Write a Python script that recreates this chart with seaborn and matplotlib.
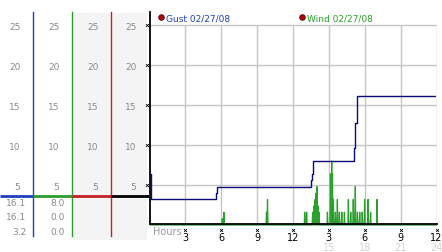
import matplotlib
matplotlib.use("Agg")
import matplotlib.pyplot as plt
from matplotlib.lines import Line2D
from matplotlib.patches import Rectangle
from matplotlib.transforms import ScaledTranslation
import seaborn as sns

# ---------------- data ----------------
gust_label = "Gust 02/27/08"
wind_label = "Wind 02/27/08"

gust_hours = [0.0, 0.11, 5.58, 5.66, 13.50, 13.58, 13.68, 17.12, 17.20, 17.34, 23.90]
gust_mph = [6.4, 3.2, 4.0, 4.8, 5.6, 6.4, 8.0, 9.6, 12.8, 16.1, 16.1]

wind_hours = [
    0.00,
    6.05, 6.09, 6.13, 6.18, 6.22, 6.26,
    9.74, 9.78, 9.82, 9.87, 9.91,
    12.94, 12.98, 13.02, 13.10, 13.14, 13.18,
    13.60, 13.64, 13.70, 13.76, 13.80, 13.85, 13.89, 13.93, 13.97, 14.01, 14.05, 14.10, 14.14, 14.18, 14.22,
    14.84, 14.88, 14.92,
    15.09, 15.13, 15.19, 15.24, 15.27, 15.30, 15.34, 15.38, 15.42,
    15.51, 15.55, 15.59, 15.67, 15.71, 15.75, 15.84, 15.88, 15.92, 16.04, 16.08, 16.12,
    16.26, 16.30, 16.34, 16.59, 16.63, 16.67, 16.79, 16.83, 16.87,
    17.00, 17.04, 17.08, 17.17, 17.21, 17.25, 17.35, 17.39, 17.43,
    17.54, 17.58, 17.62, 17.75, 17.79, 17.83, 17.95, 17.99, 18.03,
    18.24, 18.28, 18.32, 18.45, 18.49, 18.53, 18.99, 19.03, 19.07,
    24.00,
]
wind_mph = [
    0.0,
    0.0, 0.8, 0.0, 0.0, 1.6, 0.0,
    0.0, 1.6, 0.0, 3.2, 0.0,
    0.0, 1.6, 0.0, 0.0, 1.6, 0.0,
    0.0, 1.6, 0.0, 2.4, 0.0, 3.2, 0.0, 4.0, 0.0, 4.8, 0.0, 2.4, 0.0, 1.6, 0.0,
    0.0, 1.6, 0.0,
    0.0, 6.4, 0.0, 8.0, 0.0, 6.4, 0.0, 3.2, 0.0,
    0.0, 1.6, 0.0, 0.0, 3.2, 0.0, 0.0, 1.6, 0.0, 0.0, 1.6, 0.0,
    0.0, 1.6, 0.0, 0.0, 3.2, 0.0, 0.0, 1.6, 0.0,
    0.0, 3.2, 0.0, 0.0, 4.8, 0.0, 0.0, 1.6, 0.0,
    0.0, 1.6, 0.0, 0.0, 1.6, 0.0, 0.0, 3.2, 0.0,
    0.0, 3.2, 0.0, 0.0, 1.6, 0.0, 0.0, 3.2, 0.0,
    0.0,
]

y_ticks = [5, 10, 15, 20, 25]
y_tick_labels = ["5", "10", "15", "20", "25"]
x_ticks = [3, 6, 9, 12, 15, 18, 21, 24]
x_tick_labels = ["3", "6", "9", "12", "3", "6", "9", "12"]
x24_ticks = [15, 18, 21, 24]
x24_labels = ["15", "18", "21", "24"]

# ---------------- style ----------------
sns.set_theme(style="white")
plt.rcParams["font.family"] = ["DejaVu Sans"]

W, H = 442, 253
fig = plt.figure(figsize=(W / 100, H / 100), dpi=100)
fig.patch.set_facecolor("white")


def rect(x0, y0, x1, y1):
    return [x0 / W, 1 - y1 / H, (x1 - x0) / W, (y1 - y0) / H]


GUST_C = "#0c0c78"
WIND_C = "#2ca02c"
BLUE = "#1f3fc0"
GREEN = "#2c9c2c"
RED = "#c42026"
TICK_GRAY = "#8a8a8a"
GRID = "#c6c6c6"

# light gray band behind the 3rd and 4th scale columns
fig.add_artist(Rectangle((73 / W, 1 - 241 / H), (147 - 73) / W, (241 - 14) / H,
                         transform=fig.transFigure, facecolor="#f4f4f4",
                         edgecolor="none", zorder=-5))

SEP = 3.66
columns = [(0, 33, BLUE), (33, 72, GREEN), (72, 111, RED), (111, 149, "black")]
col_axes = []
for i, (x0, x1, c) in enumerate(columns):
    cax = fig.add_axes(rect(x0, 13, x1, 237))
    cax.set_facecolor("none")
    cax.set_xlim(0, 1)
    cax.set_ylim(-1.375, 26.625)
    for s in ["top", "left", "bottom"]:
        cax.spines[s].set_visible(False)
    if i < 3:
        cax.spines["right"].set_color(c)
        cax.spines["right"].set_linewidth(1.0)
    else:
        cax.spines["right"].set_visible(False)
    cax.set_xticks([])
    cax.yaxis.tick_right()
    cax.set_yticks(y_ticks, y_tick_labels)
    cax.tick_params(axis="y", length=0, pad=-9, labelsize=6.5, labelcolor=TICK_GRAY)
    for lab in cax.get_yticklabels():
        lab.set_horizontalalignment("right")
    cax.axhline(SEP, color=c, lw=2, solid_capstyle="butt")
    col_axes.append(cax)

# summary values (high, current, low) under the first two scales
stat_levels = [2.75, 1.0, -0.79]
for cax, vals in [(col_axes[0], gust_mph), (col_axes[1], wind_mph)]:
    stats = [max(vals), vals[-1], min(vals)]
    for lvl, v in zip(stat_levels, stats):
        cax.annotate(f"{v:.1f}", xy=(1, lvl), xycoords=cax.get_yaxis_transform(),
                     xytext=(-5, 0), textcoords="offset points", ha="right",
                     va="center", fontsize=6.5, color=TICK_GRAY)

# ---------------- main chart ----------------
ax = fig.add_axes(rect(149.5, 13, 436.5, 227.6))
ax.set_facecolor("none")
ax.set_xlim(0, 24)
ax.set_ylim(-0.2, 26.625)

ax.hlines(y_ticks, 0, 24.2, colors=GRID, lw=1, zorder=0.5)
ax.vlines(x_ticks, 0, 25, colors=GRID, lw=1, zorder=0.5)

sns.lineplot(x=wind_hours, y=wind_mph, ax=ax, color=WIND_C, lw=0.9,
             estimator=None, sort=False, zorder=2)
sns.lineplot(x=gust_hours, y=gust_mph, ax=ax, color=GUST_C, lw=1.0,
             drawstyle="steps-post", estimator=None, sort=False, zorder=3)

for s in ["top", "right"]:
    ax.spines[s].set_visible(False)
ax.spines["left"].set_color("black")
ax.spines["left"].set_linewidth(1.3)
ax.spines["left"].set_bounds(0.12, 26.625)
ax.spines["bottom"].set_color("black")
ax.spines["bottom"].set_linewidth(1.3)
ax.spines["bottom"].set_position(("data", 0.12))

ax.set_yticks([])
ax.set_xticks(x_ticks, x_tick_labels)
ax.tick_params(axis="x", length=0, pad=5.5, labelsize=7, labelcolor="black")
ax.set_xlabel("")
ax.set_ylabel("")

# little cross tick marks
ytr = ax.get_yaxis_transform() + ScaledTranslation(-2.5 / 100, 0, fig.dpi_scale_trans)
ax.plot([0] * len(y_ticks), y_ticks, ls="none", marker="x", ms=2.0, mew=0.6,
        color="black", transform=ytr, clip_on=False, zorder=5)
xtr = ax.transData + ScaledTranslation(0, -5.5 / 100, fig.dpi_scale_trans)
ax.plot(x_ticks, [0.12] * len(x_ticks), ls="none", marker="x", ms=2.0, mew=0.6,
        color="black", transform=xtr, clip_on=False, zorder=5)

sec = ax.secondary_xaxis("bottom")
sec.set_xticks(x24_ticks, x24_labels)
sec.tick_params(axis="x", length=0, pad=11, labelsize=7, labelcolor="#d4d4d4")
sec.spines["bottom"].set_visible(False)

ax.annotate("Hours", xy=(0.3, 0.12), xycoords="data", xytext=(0, -5),
            textcoords="offset points", ha="left", va="center", fontsize=7,
            color="#9a9a9a")

# legend
handles = [Line2D([], [], ls="none", marker="o", ms=4, markerfacecolor="#b00000",
                  markeredgecolor="#4a0000", markeredgewidth=0.6) for _ in range(2)]
leg = ax.legend(handles, [gust_label, wind_label], ncol=2, loc="upper left",
                bbox_to_anchor=(157.4 / W, 1 - 14 / H), bbox_transform=fig.transFigure,
                frameon=False, fontsize=6.5, handlelength=0.8, handletextpad=0.15,
                columnspacing=7.6, borderpad=0, borderaxespad=0)
for t, c in zip(leg.get_texts(), [BLUE, "#26a326"]):
    t.set_color(c)

fig.savefig("out.png", dpi=100)
